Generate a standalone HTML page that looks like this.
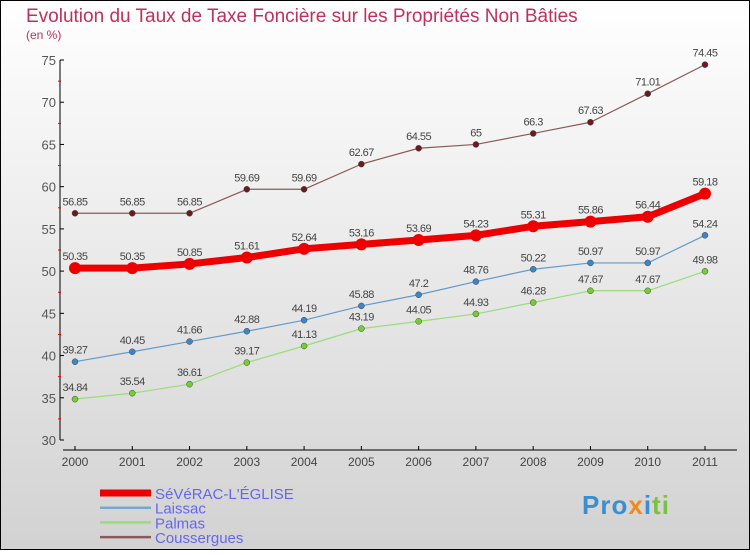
<!DOCTYPE html>
<html><head><meta charset="utf-8"><style>
html,body{margin:0;padding:0}
body{width:750px;height:550px;overflow:hidden;font-family:"Liberation Sans",sans-serif}
</style></head><body>
<svg id="chart" width="750" height="550" xmlns="http://www.w3.org/2000/svg">
<defs><linearGradient id="bg" x1="0" y1="0" x2="0" y2="1"><stop offset="0" stop-color="#ffffff"/><stop offset="1" stop-color="#d2d2d2"/></linearGradient></defs>
<rect x="0.5" y="0.5" width="749" height="549" fill="url(#bg)" stroke="#000"/>
<text x="26" y="22" font-size="19" fill="#c0305a">Evolution du Taux de Taxe Foncière sur les Propriétés Non Bâties</text>
<text x="26" y="39" font-size="12" fill="#c0305a">(en %)</text>
<g id="axes"></g><g id="series"></g><g id="legend"></g>
</svg>
<script>
const years=["2000","2001","2002","2003","2004","2005","2006","2007","2008","2009","2010","2011"];
const yTicks=[30,35,40,45,50,55,60,65,70,75];
const severac=[50.35,50.35,50.85,51.61,52.64,53.16,53.69,54.23,55.31,55.86,56.44,59.18];
const laissac=[39.27,40.45,41.66,42.88,44.19,45.88,47.2,48.76,50.22,50.97,50.97,54.24];
const palmas=[34.84,35.54,36.61,39.17,41.13,43.19,44.05,44.93,46.28,47.67,47.67,49.98];
const coussergues=[56.85,56.85,56.85,59.69,59.69,62.67,64.55,65,66.3,67.63,71.01,74.45];
const names=["SéVéRAC-L'ÉGLISE","Laissac","Palmas","Coussergues"];
const NS="http://www.w3.org/2000/svg";
const xs=i=>75+i*(630/11);
const ys=v=>440-(v-30)*(380/45);
function mk(tag,attrs,parent){const e=document.createElementNS(NS,tag);for(const k in attrs)e.setAttribute(k,attrs[k]);parent.appendChild(e);return e;}
const ax=document.getElementById('axes');
let yl=mk('line',{x1:60,y1:60,x2:60,y2:440,stroke:'#000','stroke-width':1},ax);


yTicks.forEach((t,i)=>{
 const y=ys(t);
 mk('line',{x1:60,y1:y,x2:64,y2:y,stroke:'#000'},ax);
 const tx=mk('text',{x:56,y:y+5,'font-size':13,fill:'#555','text-anchor':'end'},ax);
 tx.textContent=t;
 
 
 if(i<yTicks.length-1){const m=ys(t+2.5);mk('line',{x1:58,y1:m,x2:61,y2:m,stroke:'#e00'},ax);}
});
let xl=mk('line',{x1:63,y1:450,x2:737,y2:450,stroke:'#000','stroke-width':1},ax);


years.forEach((yr,i)=>{
 const x=xs(i);
 mk('line',{x1:x,y1:446,x2:x,y2:450,stroke:'#000'},ax);
 const tx=mk('text',{x:x,y:466,'font-size':12,fill:'#444','text-anchor':'middle'},ax);
 tx.textContent=yr;
 
 
});
const sr=document.getElementById('series');
const specs=[
 {d:coussergues,c:'#8a5a5a',p:'#6b1a22',w:1.2,r:3,n:'coussergues'},
 {d:palmas,c:'#99dd77',p:'#77cc33',w:1.2,r:3,n:'palmas'},
 {d:laissac,c:'#6699cc',p:'#3a86c8',w:1.2,r:3,n:'laissac'},
 {d:severac,c:'#ee0000',p:'#ee0000',w:7,r:6,n:'severac'}
];
specs.forEach(s=>{
 const g=mk('g',{},sr);
 
 
 const pl=mk('polyline',{points:s.d.map((v,i)=>xs(i)+','+ys(v)).join(' '),fill:'none',stroke:s.c,'stroke-width':s.w,'stroke-linejoin':'round'},g);
 
 
 s.d.forEach((v,i)=>{
  const c=mk('circle',{cx:xs(i),cy:ys(v),r:s.r,fill:s.p,stroke:s.n==='severac'?'none':'#444','stroke-width':0.5},g);
  
  
  const t=mk('text',{x:xs(i),y:ys(v)-8,'font-size':11,fill:'#444','text-anchor':'middle','letter-spacing':'-0.5'},g);
  t.textContent=v;
  
  
 });
});
const lg=document.getElementById('legend');
const lspec=[{c:'#ee0000',w:7},{c:'#7aa6cc',w:2.5},{c:'#99dd77',w:2.5},{c:'#8a5a5a',w:2.5}];
names.forEach((n,i)=>{
 const y=493+i*14.7;
 const g=mk('g',{},lg);
 
 
 mk('line',{x1:100,y1:y,x2:151,y2:y,stroke:lspec[i].c,'stroke-width':lspec[i].w},g);
 const t=mk('text',{x:155,y:y+6,'font-size':15,fill:'#6666ee'},g);
 t.textContent=n;
});
</script>
<div style="position:absolute;left:582px;top:490px;font:bold 26px 'Liberation Sans',sans-serif;letter-spacing:1px"><span style="color:#3a8fd0">Pro</span><span style="color:#f08a20">x</span><span style="color:#3a8fd0">i</span><span style="color:#7cc040">ti</span></div>
</body></html>
